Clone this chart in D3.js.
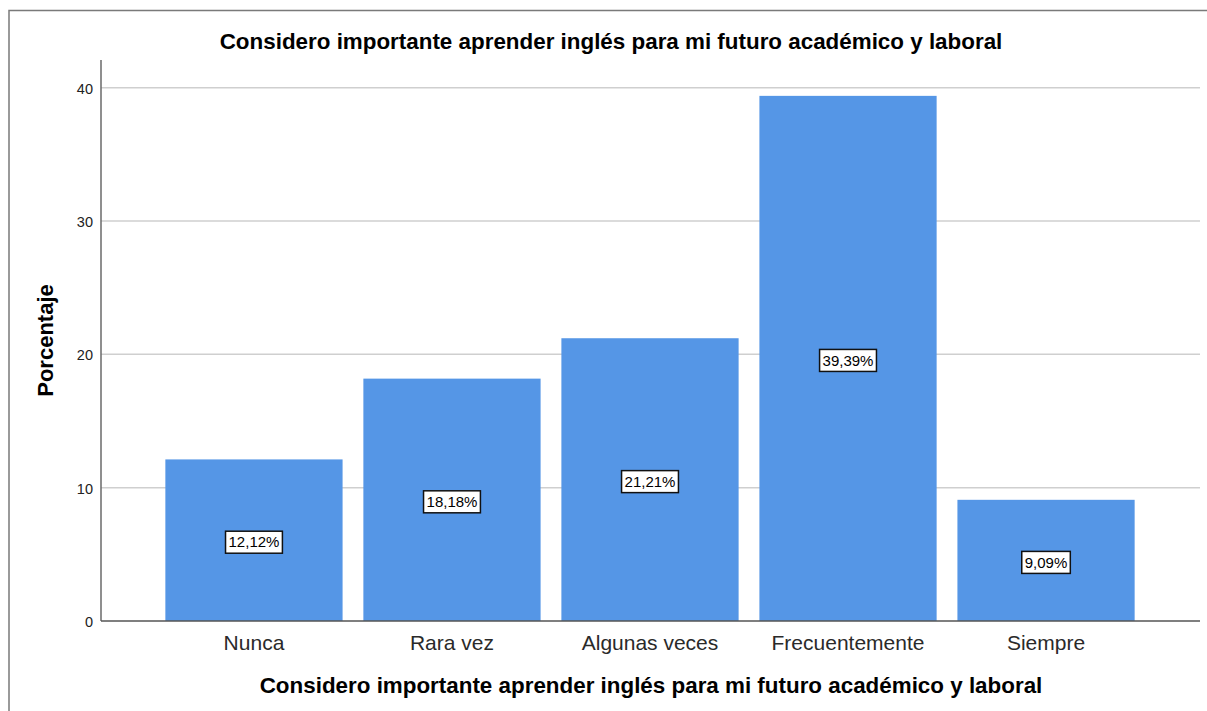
<!DOCTYPE html>
<html>
<head>
<meta charset="utf-8">
<script src="https://cdn.jsdelivr.net/npm/d3@7"></script>
<style>
  body { margin: 0; background: #fff; }
  text { font-family: "Liberation Sans", Arial, sans-serif; }
</style>
</head>
<body>
<svg id="chart" width="1207" height="711"></svg>
<script>
var categories = ["Nunca", "Rara vez", "Algunas veces", "Frecuentemente", "Siempre"];
var percents = [12.12, 18.18, 21.21, 39.39, 9.09];
var valueLabels = ["12,12%", "18,18%", "21,21%", "39,39%", "9,09%"];
var yTicks = [0, 10, 20, 30, 40];
var titleText = "Considero importante aprender inglés para mi futuro académico y laboral";
var yTitle = "Porcentaje";

var svg = d3.select("#chart");
var plotL = 101, plotR = 1199, plotT = 60, plotB = 621;

// frame (only top and left edges show)
svg.append("path")
  .attr("d", "M9,711V10.5H1207")
  .attr("fill", "none")
  .attr("stroke", "#7a7a7a")
  .attr("stroke-width", 1.5);

var y = d3.scaleLinear().domain([0, 42.08]).range([plotB, plotT]);
var x = d3.scaleBand().domain(categories).range([plotL, plotR])
  .paddingInner(0.105).paddingOuter(0.325);

// grid
svg.append("g").selectAll("line").data(yTicks.filter(function(d){ return d > 0; }))
  .enter().append("line")
  .attr("x1", plotL).attr("x2", plotR + 1)
  .attr("y1", function(d){ return y(d); })
  .attr("y2", function(d){ return y(d); })
  .attr("stroke", "#cfcfcf")
  .attr("stroke-width", 1.5);

// bars
svg.append("g").selectAll("rect").data(percents)
  .enter().append("rect")
  .attr("x", function(d,i){ return x(categories[i]); })
  .attr("width", x.bandwidth())
  .attr("y", function(d){ return y(d); })
  .attr("height", function(d){ return y(0) - y(d); })
  .attr("fill", "#5596e6");

// axes lines
svg.append("line").attr("x1", plotL).attr("x2", plotL).attr("y1", plotT).attr("y2", plotB)
  .attr("stroke", "#6a6a6a").attr("stroke-width", 1.5);
svg.append("line").attr("x1", plotL).attr("x2", plotR + 1).attr("y1", plotB).attr("y2", plotB)
  .attr("stroke", "#555").attr("stroke-width", 1.5);

// y tick labels
svg.append("g").selectAll("text").data(yTicks)
  .enter().append("text")
  .attr("x", plotL - 8)
  .attr("y", function(d){ return y(d) + 6; })
  .attr("text-anchor", "end")
  .attr("font-size", "14.5px")
  .attr("fill", "#222")
  .text(function(d){ return d; });

// category labels
svg.append("g").selectAll("text").data(categories)
  .enter().append("text")
  .attr("x", function(d){ return x(d) + x.bandwidth() / 2; })
  .attr("y", 650)
  .attr("text-anchor", "middle")
  .attr("font-size", "21px")
  .attr("fill", "#2a2a2a")
  .text(function(d){ return d; });

// value labels with boxes
var lab = svg.append("g").selectAll("g").data(percents).enter().append("g")
  .attr("transform", function(d,i){
    return "translate(" + (x(categories[i]) + x.bandwidth() / 2) + "," + (y(d / 2) + 2) + ")";
  });
lab.append("text")
  .attr("text-anchor", "middle")
  .attr("dy", "0.35em")
  .attr("font-size", "15px")
  .attr("fill", "#000")
  .text(function(d,i){ return valueLabels[i]; });
lab.each(function(){
  var g = d3.select(this);
  var bb = g.select("text").node().getBBox();
  g.insert("rect", "text")
    .attr("x", bb.x - 3).attr("y", -11)
    .attr("width", bb.width + 6).attr("height", 22)
    .attr("fill", "#fff")
    .attr("stroke", "#111")
    .attr("stroke-width", 1.5);
});

// titles
svg.append("text")
  .attr("x", 611).attr("y", 49)
  .attr("text-anchor", "middle")
  .attr("font-size", "22.4px").attr("font-weight", "bold")
  .attr("fill", "#000")
  .text(titleText);

svg.append("text")
  .attr("x", (plotL + plotR) / 2 + 1).attr("y", 693)
  .attr("text-anchor", "middle")
  .attr("font-size", "22.4px").attr("font-weight", "bold")
  .attr("fill", "#000")
  .text(titleText);

svg.append("text")
  .attr("transform", "translate(53," + ((plotT + plotB) / 2) + ") rotate(-90)")
  .attr("text-anchor", "middle")
  .attr("font-size", "22px").attr("font-weight", "bold")
  .attr("fill", "#000")
  .text(yTitle);
</script>
</body>
</html>
